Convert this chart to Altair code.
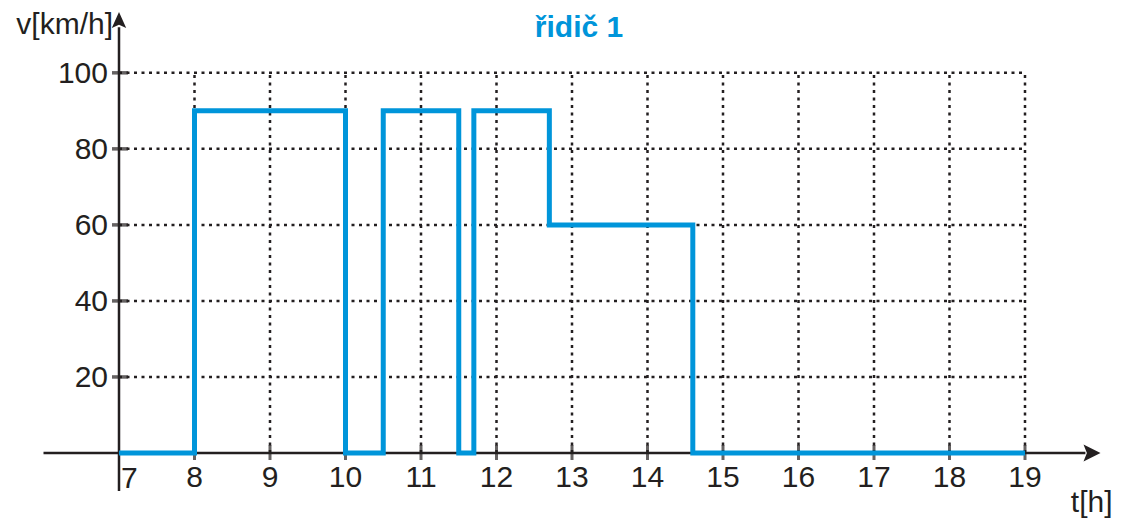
import altair as alt
import pandas as pd

# ---- data ----
hours = [7, 8, 9, 10, 11, 12, 13, 14, 15, 16, 17, 18, 19]
grid_hours = [8, 9, 10, 11, 12, 13, 14, 15, 16, 17, 18, 19]
speed_ticks = [20, 40, 60, 80, 100]
t_points = [7, 8, 8, 10, 10, 10.5, 10.5, 11.5, 11.5, 11.7, 11.7, 12.7, 12.7, 14.6, 14.6, 19]
v_points = [0, 0, 90, 90, 0, 0, 90, 90, 0, 0, 90, 90, 60, 60, 0, 0]

BLUE = "#0095DA"
INK = "#231F20"
FONT = "Liberation Sans"

xs = alt.Scale(domain=[6, 20], nice=False, zero=False)
ys = alt.Scale(domain=[-10, 116], nice=False, zero=False)

one = pd.DataFrame({"k": [0]})
df_hours = pd.DataFrame({"h": hours})
df_grid_h = pd.DataFrame({"h": grid_hours})
df_speed = pd.DataFrame({"v": speed_ticks})
df_line = pd.DataFrame({"t": t_points, "v": v_points, "i": list(range(len(t_points)))})

def X(**kw):
    return alt.X(scale=xs, axis=None, **kw)

def Y(**kw):
    return alt.Y(scale=ys, axis=None, **kw)

grid_v = alt.Chart(df_grid_h).mark_rule(color=INK, strokeWidth=2.5, strokeDash=[3, 4.5]).encode(
    x=X(field="h", type="quantitative"), y=Y(datum=0), y2=alt.Y2(datum=100)
)
grid_hz = alt.Chart(df_speed).mark_rule(color=INK, strokeWidth=2.5, strokeDash=[3, 4.5]).encode(
    y=Y(field="v", type="quantitative"), x=X(datum=7), x2=alt.X2(datum=19)
)

x_axis = alt.Chart(one).mark_rule(color=INK, strokeWidth=2.5).encode(
    x=X(datum=6), x2=alt.X2(datum=19.8), y=Y(datum=0)
)
y_axis = alt.Chart(one).mark_rule(color=INK, strokeWidth=2.5).encode(
    x=X(datum=7), y=Y(datum=-10), y2=alt.Y2(datum=112)
)

x_ticks = alt.Chart(df_grid_h).mark_tick(color=INK, orient="vertical", size=15, thickness=3, yOffset=-0.5).encode(
    x=X(field="h", type="quantitative"), y=Y(datum=0)
)
y_ticks = alt.Chart(df_speed).mark_tick(color=INK, orient="horizontal", size=16, thickness=3.5, xOffset=1).encode(
    y=Y(field="v", type="quantitative"), x=X(datum=7)
)

x_arrow = alt.Chart(one).mark_point(
    shape="M0,0 L-2,-1 L-1.6,0 L-2,1 Z", size=289, filled=True, color=INK, opacity=1, strokeWidth=0
).encode(x=X(datum=20), y=Y(datum=0))
y_arrow = alt.Chart(one).mark_point(
    shape="M0,0 L-0.9,2 L0,1.6 L0.9,2 Z", size=256, filled=True, color=INK, opacity=1, strokeWidth=0
).encode(x=X(datum=7), y=Y(datum=116))

speed_line = alt.Chart(df_line).mark_line(
    color=BLUE, strokeWidth=5, strokeJoin="miter", strokeCap="butt"
).encode(
    x=X(field="t", type="quantitative"),
    y=Y(field="v", type="quantitative"),
    order=alt.Order("i:Q"),
)

x_lab_first = alt.Chart(df_hours).transform_filter("datum.h == 7").mark_text(
    font=FONT, fontSize=30, color=INK, align="left", baseline="alphabetic", dx=2, dy=35
).encode(x=X(field="h", type="quantitative"), y=Y(datum=0), text=alt.Text("h:Q"))
x_lab_rest = alt.Chart(df_hours).transform_filter("datum.h > 7").mark_text(
    font=FONT, fontSize=30, color=INK, align="center", baseline="alphabetic", dy=34
).encode(x=X(field="h", type="quantitative"), y=Y(datum=0), text=alt.Text("h:Q"))
y_lab = alt.Chart(df_speed).mark_text(
    font=FONT, fontSize=30, color=INK, align="right", baseline="middle", dx=-11, dy=1
).encode(y=Y(field="v", type="quantitative"), x=X(datum=7), text=alt.Text("v:Q"))

y_title = alt.Chart(one).mark_text(
    font=FONT, fontSize=30, color=INK, align="right", baseline="alphabetic", dx=-6, dy=22, text="v[km/h]"
).encode(x=X(datum=7), y=Y(datum=116))
x_title = alt.Chart(one).mark_text(
    font=FONT, fontSize=30, color=INK, align="right", baseline="alphabetic", dx=12, dy=59, text="t[h]"
).encode(x=X(datum=20), y=Y(datum=0))
title = alt.Chart(one).mark_text(
    font=FONT, fontSize=30, fontWeight="bold", color=BLUE, align="center", baseline="alphabetic", text="řidič 1"
).encode(x=alt.value(535.5), y=alt.value(25))

chart = alt.layer(
    grid_v, grid_hz, x_axis, y_axis, x_ticks, y_ticks, x_arrow, y_arrow,
    speed_line, x_lab_first, x_lab_rest, y_lab, y_title, x_title, title
).properties(
    width=1057,
    height=479,
    autosize=alt.AutoSizeParams(type="none"),
    padding={"left": 35.5, "top": 4, "right": 13.5, "bottom": 28},
    background="white",
).configure_view(stroke=None)

chart.save("out.html", embed_options={"renderer": "svg", "actions": False})
